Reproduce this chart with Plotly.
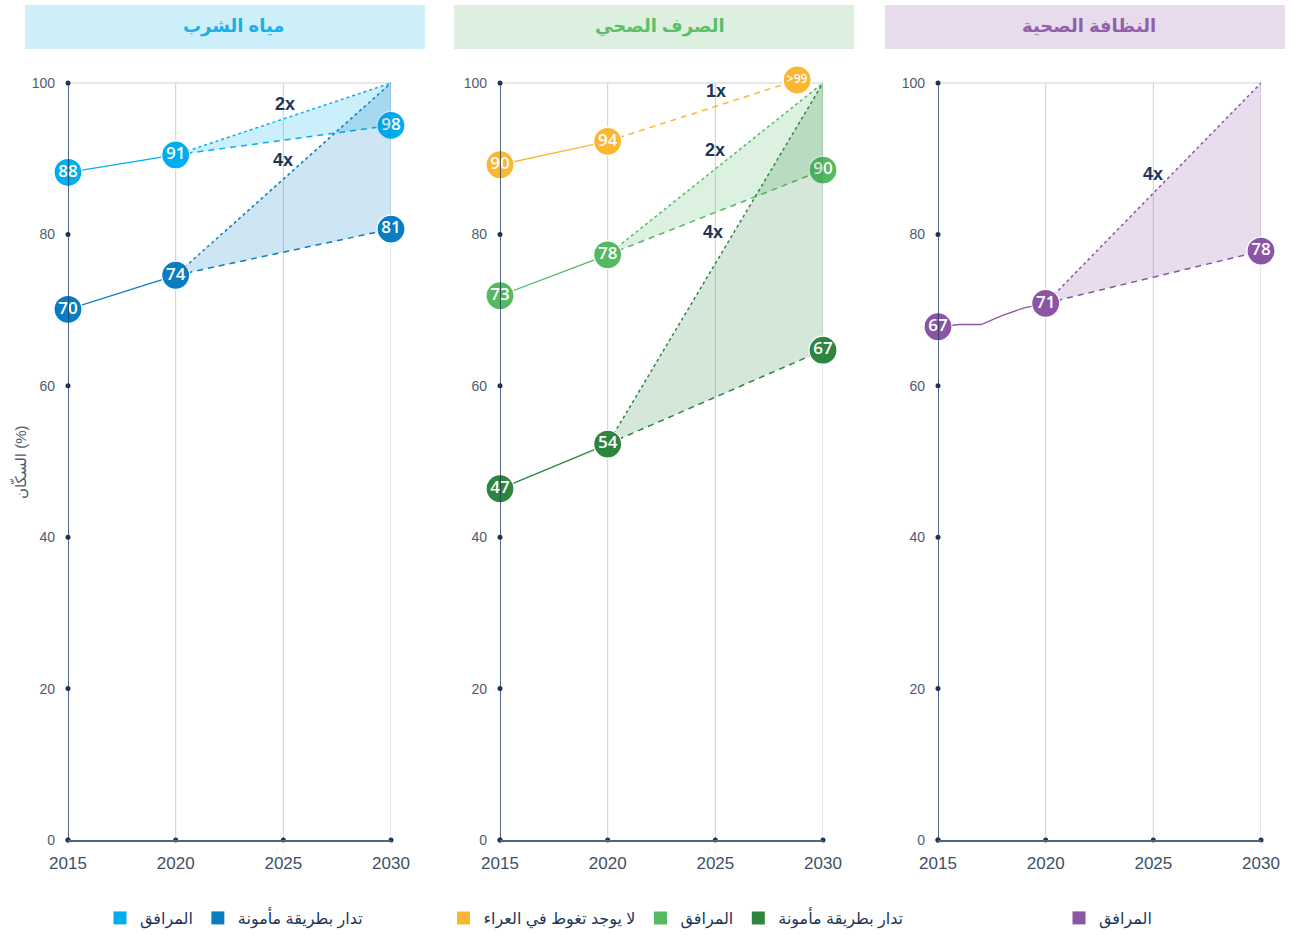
import plotly.graph_objects as go

# ---------------- data ----------------
target_value = 100
target_year = 2030

water_years = [2015, 2020, 2030]
water_basic = [88.2, 90.5, 94.4]
water_basic_labels = ["88", "91", "98"]
water_safe = [70.1, 74.6, 80.7]
water_safe_labels = ["70", "74", "81"]

san_years = [2015, 2020, 2030]
san_odf_years = [2015, 2020, 2028.8]
san_odf = [89.2, 92.3, 100.4]
san_odf_labels = ["90", "94", ">99"]
san_basic = [71.9, 77.3, 88.5]
san_basic_labels = ["73", "78", "90"]
san_safe = [46.4, 52.3, 64.7]
san_safe_labels = ["47", "54", "67"]

hyg_hist_years = [2015, 2016, 2017, 2018, 2019, 2020]
hyg_hist = [67.8, 68.1, 68.1, 69.3, 70.3, 70.9]
hyg_2030 = 77.8
hyg_labels = ["67", "71", "78"]

x_ticks = [2015, 2020, 2025, 2030]
y_ticks = [0, 20, 40, 60, 80, 100]

panel_titles = ["مياه الشرب", "الصرف الصحي", "النظافة الصحية"]
y_title = "السكّان (%)"

mult_water = [("2x", 2025.1, 97.2), ("4x", 2025.0, 89.8)]
mult_san = [("1x", 2025.05, 98.9), ("2x", 2025.0, 91.1), ("4x", 2024.9, 80.3)]
mult_hyg = [("4x", 2025.0, 88.0)]

# ---------------- style ----------------
FONT = "Liberation Sans, Arial, DejaVu Sans, sans-serif"
LBL_FONT = "Open Sans, Liberation Sans, sans-serif"
NAVY = "#1D3557"
TXT = "#3E4F66"
GRID = "#CFCFCF"
W, H = 1290, 935

C_WB = "#00AEEF"; C_WS = "#0A7DC2"
C_SO = "#FBB632"; C_SB = "#55B962"; C_SS = "#2E8540"
C_HB = "#8B55A5"

def rgba(hexc, a):
    h = hexc.lstrip("#")
    return "rgba(%d,%d,%d,%s)" % (int(h[0:2], 16), int(h[2:4], 16), int(h[4:6], 16), a)

fig = go.Figure()

def add_series(ax, hist_x, hist_y, proj_x, proj_y, color, labels, label_x, label_y,
               target=True, fill_alpha=0.2, label_sizes=None):
    xa, ya = "x" + ax, "y" + ax
    if target:
        x0, y0 = proj_x[0], proj_y[0]
        fig.add_trace(go.Scatter(x=[x0, target_year, proj_x[-1], x0],
                                 y=[y0, target_value, proj_y[-1], y0],
                                 fill="toself", fillcolor=rgba(color, fill_alpha),
                                 mode="lines", line=dict(width=0), hoverinfo="skip",
                                 showlegend=False, xaxis=xa, yaxis=ya))
    fig.add_trace(go.Scatter(x=hist_x, y=hist_y, mode="lines",
                             line=dict(color=color, width=1.3), showlegend=False,
                             xaxis=xa, yaxis=ya, cliponaxis=False))
    fig.add_trace(go.Scatter(x=proj_x, y=proj_y, mode="lines",
                             line=dict(color=color, width=1.5, dash="6px,5px"), showlegend=False,
                             xaxis=xa, yaxis=ya, cliponaxis=False))
    if target:
        fig.add_trace(go.Scatter(x=[proj_x[0], target_year], y=[proj_y[0], target_value],
                                 mode="lines", line=dict(color=color, width=1.5, dash="dot"),
                                 showlegend=False, xaxis=xa, yaxis=ya, cliponaxis=False))
    sizes = label_sizes or [17] * len(labels)
    fig.add_trace(go.Scatter(x=label_x, y=label_y, mode="markers+text", text=labels,
                             textposition="middle center",
                             textfont=dict(color="white", size=sizes, family=LBL_FONT, weight=600),
                             marker=dict(color=color, size=28, line=dict(color="white", width=1.2)),
                             showlegend=False, xaxis=xa, yaxis=ya, cliponaxis=False))

# water
add_series("", water_years[:2], water_basic[:2], water_years[1:], water_basic[1:], C_WB,
           water_basic_labels, water_years, water_basic)
add_series("", water_years[:2], water_safe[:2], water_years[1:], water_safe[1:], C_WS,
           water_safe_labels, water_years, water_safe)
# sanitation
add_series("2", san_odf_years[:2], san_odf[:2], san_odf_years[1:], san_odf[1:], C_SO,
           san_odf_labels, san_odf_years, san_odf, target=False, label_sizes=[17, 17, 12])
add_series("2", san_years[:2], san_basic[:2], san_years[1:], san_basic[1:], C_SB,
           san_basic_labels, san_years, san_basic)
add_series("2", san_years[:2], san_safe[:2], san_years[1:], san_safe[1:], C_SS,
           san_safe_labels, san_years, san_safe, fill_alpha=0.2)
# hygiene
add_series("3", hyg_hist_years, hyg_hist, [hyg_hist_years[-1], target_year], [hyg_hist[-1], hyg_2030],
           C_HB, hyg_labels, [hyg_hist_years[0], hyg_hist_years[-1], target_year],
           [hyg_hist[0], hyg_hist[-1], hyg_2030])

# tick dots on axes
for ax in ["", "2", "3"]:
    fig.add_trace(go.Scatter(x=[x_ticks[0]] * len(y_ticks), y=y_ticks, mode="markers",
                             marker=dict(color=NAVY, size=5), showlegend=False,
                             xaxis="x" + ax, yaxis="y" + ax, cliponaxis=False, hoverinfo="skip"))
    fig.add_trace(go.Scatter(x=x_ticks, y=[y_ticks[0]] * len(x_ticks), mode="markers",
                             marker=dict(color=NAVY, size=5), showlegend=False,
                             xaxis="x" + ax, yaxis="y" + ax, cliponaxis=False, hoverinfo="skip"))

# legend entries
leg_basic = "المرافق"
leg_safe = "تدار بطريقة مأمونة"
leg_odf = "لا يوجد تغوط في العراء"
for name, color, lg in [(leg_basic, C_WB, "legend"), (leg_safe, C_WS, "legend"),
                        (leg_odf, C_SO, "legend2"), (leg_basic, C_SB, "legend2"),
                        (leg_safe, C_SS, "legend2"), (leg_basic, C_HB, "legend3")]:
    fig.add_trace(go.Scatter(x=[None], y=[None], mode="markers", name=name,
                             marker=dict(color=color, size=13, symbol="square"),
                             legend=lg, showlegend=True))

# axes (y range slightly above 100 so the ">99" marker is not hidden)
Y_MAX = 101.5
px_per_unit = (840 - 83) / 100.0
px_x = [(68, 391), (500, 823), (938, 1261)]
y_dom = [(H - 840) / H, (H - (840 - Y_MAX * px_per_unit)) / H]
layout_axes = {}
for i, (a, b) in enumerate(px_x):
    sfx = "" if i == 0 else str(i + 1)
    layout_axes["xaxis" + sfx] = dict(
        domain=[a / W, b / W], range=[2015, 2030], tickvals=x_ticks, automargin=False,
        showgrid=False, zeroline=False,
        showline=True, linecolor="#52637A", linewidth=2, ticks="",
        ticklabelstandoff=7, tickfont=dict(size=17, color=TXT, family=FONT),
        anchor="y" + sfx, fixedrange=True)
    layout_axes["yaxis" + sfx] = dict(
        domain=y_dom, range=[0, Y_MAX], tickvals=y_ticks, showgrid=False, zeroline=False,
        showline=False, ticks="", automargin=False,
        ticklabelstandoff=12, tickfont=dict(size=14, color="#4D5B70", family=FONT),
        anchor="x" + sfx, fixedrange=True)

shapes = []
annotations = []
title_boxes = [(25, 425, "#CCEFF9", "#1AAFE6", 233), (454, 854, "#DDF0DF", "#5BBE6B", 660),
               (885, 1285, "#E8DCEC", "#9160A8", 1089)]
for (a, b, bg, fg, tc), t in zip(title_boxes, panel_titles):
    shapes.append(dict(type="rect", xref="paper", yref="paper", x0=a / W, x1=b / W,
                       y0=(H - 49) / H, y1=(H - 5) / H, fillcolor=bg, line=dict(width=0),
                       layer="below"))
    annotations.append(dict(xref="paper", yref="paper", x=tc / W, y=(H - 26) / H,
                            xanchor="center", yanchor="middle", text="<b>%s</b>" % t,
                            showarrow=False, font=dict(size=18, color=fg, family=FONT)))
for i in range(3):
    sfx = "" if i == 0 else str(i + 1)
    # vertical gridlines 0..100, gridline at 100, and the y axis line
    for xv in x_ticks[1:]:
        shapes.append(dict(type="line", xref="x" + sfx, yref="y" + sfx, x0=xv, x1=xv,
                           y0=y_ticks[0], y1=y_ticks[-1], line=dict(color=GRID, width=1),
                           layer="below"))
    shapes.append(dict(type="line", xref="x%s domain" % sfx, yref="y" + sfx, x0=0, x1=1,
                       y0=y_ticks[-1], y1=y_ticks[-1], line=dict(color=GRID, width=1),
                       layer="below"))
    shapes.append(dict(type="line", xref="x" + sfx, yref="y" + sfx, x0=x_ticks[0], x1=x_ticks[0],
                       y0=y_ticks[0], y1=y_ticks[-1], line=dict(color=NAVY, width=1.5),
                       layer="above"))

for ax, mults in [("", mult_water), ("2", mult_san), ("3", mult_hyg)]:
    for txt, mx, my in mults:
        annotations.append(dict(xref="x" + ax, yref="y" + ax, x=mx, y=my, text="<b>%s</b>" % txt,
                                showarrow=False, font=dict(size=18, color=NAVY, family=FONT)))

annotations.append(dict(xref="paper", yref="paper", x=19 / W, y=(H - 462) / H, text=y_title,
                        textangle=-90, showarrow=False, xanchor="center", yanchor="middle",
                        font=dict(size=15, color="#4D5B70", family=FONT)))

leg_common = dict(orientation="h", yanchor="middle", xanchor="center", y=(H - 918) / H,
                  font=dict(size=16, color=NAVY, family=FONT), bgcolor="rgba(0,0,0,0)",
                  itemclick=False, itemdoubleclick=False)

fig.update_layout(
    width=W, height=H, margin=dict(l=0, r=0, t=0, b=0, autoexpand=False),
    paper_bgcolor="white", plot_bgcolor="white",
    font=dict(family=FONT, color=TXT),
    showlegend=True,
    legend=dict(x=234 / W, **leg_common),
    legend2=dict(x=676 / W, **leg_common),
    legend3=dict(x=1108 / W, **leg_common),
    shapes=shapes, annotations=annotations,
    **layout_axes,
)

fig.write_html("out.html", config={"displayModeBar": False},
               post_script="document.body.style.margin='0';document.body.style.overflow='hidden';")
